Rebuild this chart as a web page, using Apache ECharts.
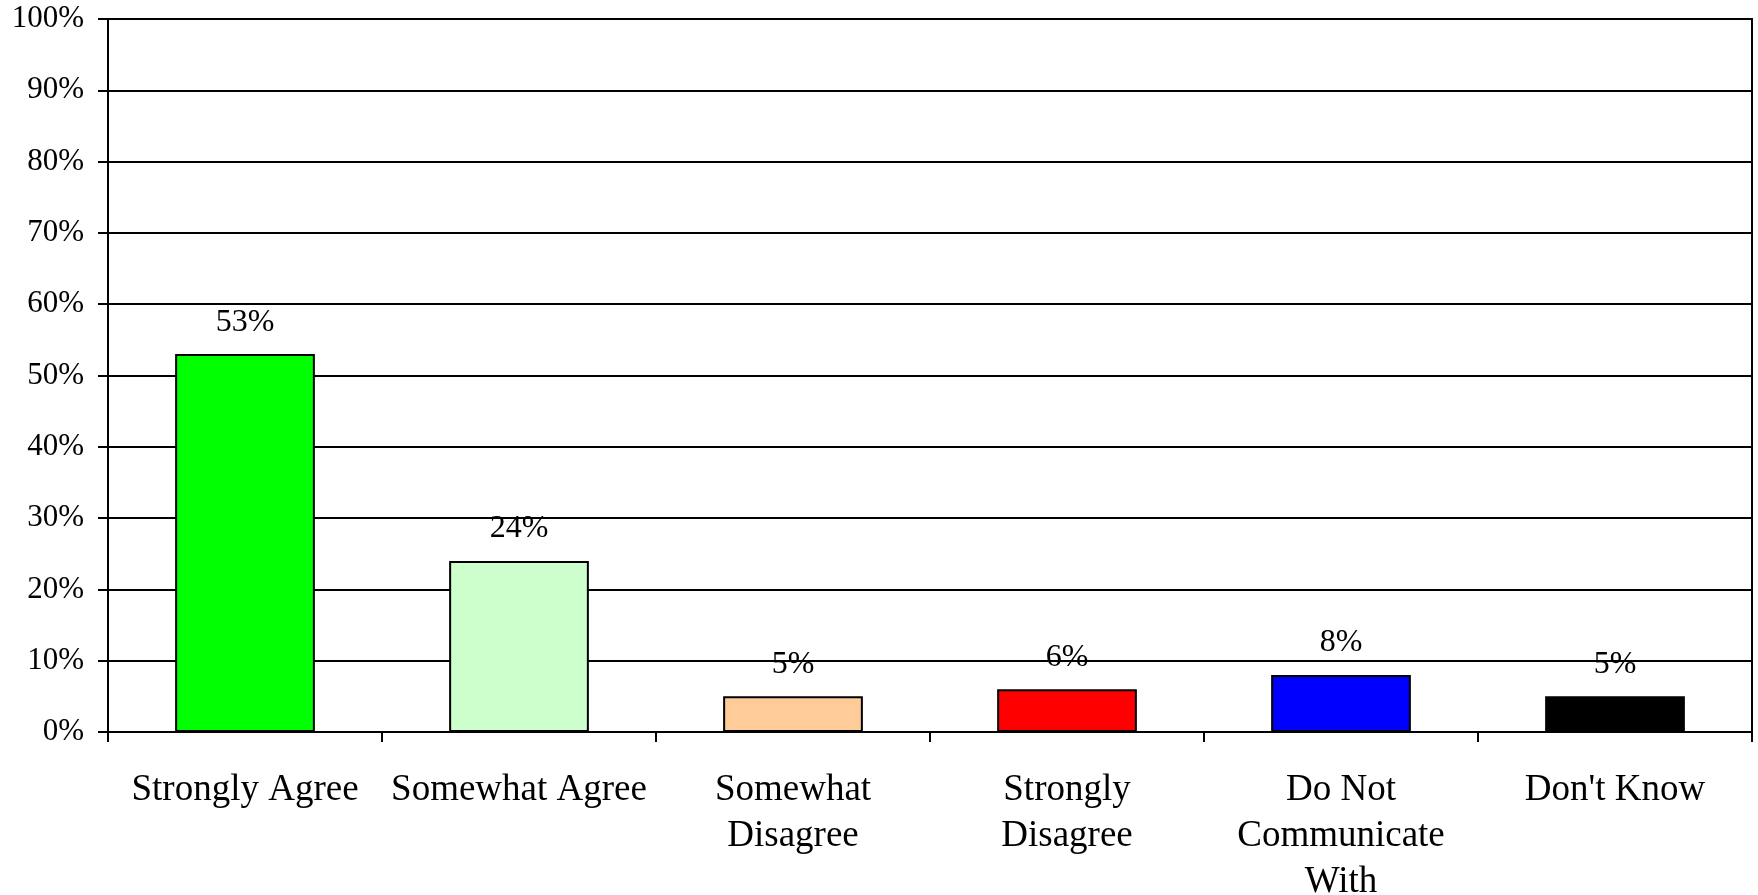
<!DOCTYPE html>
<html>
<head>
<meta charset="utf-8">
<script src="https://cdn.jsdelivr.net/npm/echarts@6/dist/echarts.min.js"></script>
<style>
html,body{margin:0;padding:0;background:#fff;}
#chart{width:1758px;height:895px;}
</style>
</head>
<body>
<div id="chart"></div>
<script>
var categories = ["Strongly Agree", "Somewhat Agree", "Somewhat\nDisagree", "Strongly\nDisagree", "Do Not\nCommunicate\nWith", "Don't Know"];
var values = [53, 24, 5, 6, 8, 5];
var barColors = ["#00FF00", "#CCFFCC", "#FFCC99", "#FF0000", "#0000FF", "#000000"];
var yTicks = [0, 10, 20, 30, 40, 50, 60, 70, 80, 90, 100];

var font = "'Liberation Serif', 'Times New Roman', serif";
var chart = echarts.init(document.getElementById('chart'), null, {renderer: 'canvas'});
chart.setOption({
  animation: false,
  backgroundColor: '#ffffff',
  grid: {left: 108, right: 6, top: 19, bottom: 163, containLabel: false, outerBoundsMode: 'none', show: true, borderColor: '#000', borderWidth: 2, backgroundColor: 'transparent'},
  xAxis: {
    type: 'category',
    data: categories,
    boundaryGap: true,
    axisLine: {show: true, lineStyle: {color: '#000', width: 2}},
    axisTick: {show: true, length: 10, inside: false, lineStyle: {color: '#000', width: 2}},
    axisLabel: {color: '#000', fontFamily: font, fontSize: 37, lineHeight: 46, margin: 35, interval: 0}
  },
  yAxis: {
    type: 'value',
    min: yTicks[0],
    max: yTicks[yTicks.length - 1],
    interval: 10,
    axisLine: {show: true, lineStyle: {color: '#000', width: 2}},
    axisTick: {show: true, length: 10, inside: false, lineStyle: {color: '#000', width: 2}},
    splitLine: {show: true, lineStyle: {color: '#000', width: 2}},
    axisLabel: {color: '#000', fontFamily: font, fontSize: 31, margin: 24, formatter: function(v){return v + '%';}}
  },
  series: [{
    type: 'bar',
    barWidth: '51%',
    data: values.map(function(v, i){
      return {value: v, itemStyle: {color: barColors[i], borderColor: '#000', borderWidth: 2}};
    }),
    label: {
      show: true,
      position: 'top',
      distance: 16,
      color: '#000',
      fontFamily: font,
      fontSize: 32,
      formatter: function(p){return p.value + '%';}
    }
  }]
});
</script>
</body>
</html>
